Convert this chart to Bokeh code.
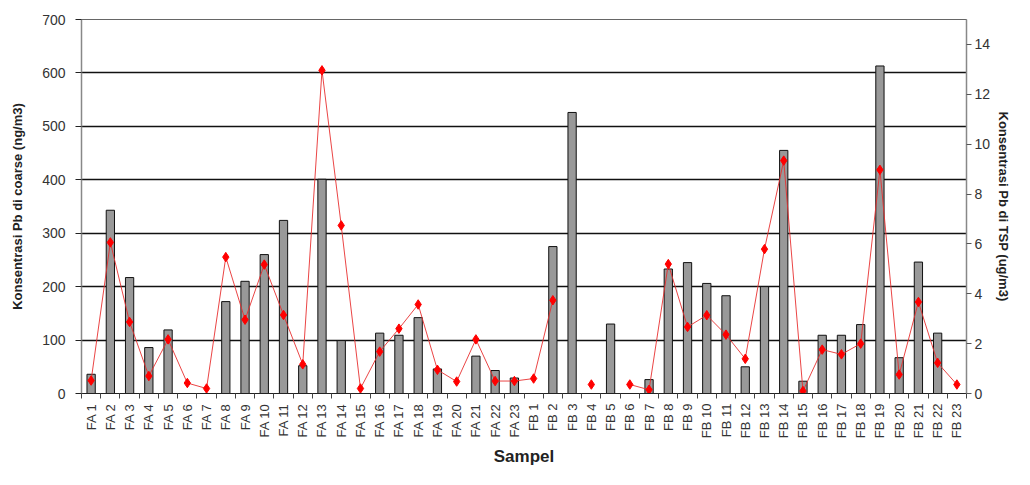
import math
import numpy as np
from bokeh.plotting import figure
from bokeh.models import Range1d, LinearAxis, FixedTicker
from bokeh.embed import file_html
from bokeh.resources import INLINE

nan = float("nan")

categories = [f"FA {i}" for i in range(1, 24)] + [f"FB {i}" for i in range(1, 24)]

# Konsentrasi Pb di coarse (ng/m3) - bars, left axis
coarse = [36, 343, 217, 86, 119, nan, nan, 172, 210, 260, 324, 52, 401, 99, nan,
          113, 109, 142, 46, nan, 70, 43, 29,
          nan, 275, 526, nan, 130, nan, 26, 233, 245, 206, 183, 50, 200, 455, 23,
          109, 109, 129, 613, 67, 246, 113, nan]

# Konsentrasi Pb di TSP (ug/m3) - line, right axis
tsp = [0.52, 6.06, 2.87, 0.70, 2.17, 0.42, 0.20, 5.47, 2.96, 5.17, 3.15, 1.17, 12.96,
       6.74, 0.20, 1.68, 2.60, 3.57, 0.95, 0.48, 2.17, 0.50, 0.50,
       0.60, 3.74, nan, 0.36, nan, 0.36, 0.15, 5.19, 2.67, 3.14, 2.36, 1.39, 5.79, 9.34,
       0.10, 1.76, 1.57, 2.00, 8.97, 0.76, 3.67, 1.23, 0.36]

left_ticks = [0, 100, 200, 300, 400, 500, 600, 700]
right_ticks = [0, 2, 4, 6, 8, 10, 12, 14]

n = len(categories)
xs = np.arange(n) + 0.5

FONT = "Liberation Sans Narrow, Liberation Sans, Arial, sans-serif"
BFONT = "Liberation Sans, Arial, sans-serif"

p = figure(width=1014, height=469, output_backend="svg", toolbar_location=None,
           x_range=Range1d(0, n), y_range=Range1d(0, 700),
           min_border_left=81, min_border_right=40, min_border_top=19, min_border_bottom=72)
p.extra_y_ranges = {"tsp": Range1d(0, 15)}

p.background_fill_color = "white"
p.outline_line_color = "#666666"
p.outline_line_width = 1

# grid
p.xgrid.visible = False
p.ygrid.ticker = FixedTicker(ticks=left_ticks)
p.ygrid.grid_line_color = "#111111"
p.ygrid.grid_line_width = 1.3

# bars
p.vbar(x=xs, top=coarse, bottom=0, width=0.43, fill_color="#999999",
       line_color="#111111", line_width=1)

# line + markers
p.line(x=xs, y=tsp, y_range_name="tsp", line_color="#e83030", line_width=0.9)
p.scatter(x=xs, y=tsp, y_range_name="tsp", marker="diamond", size=9.5,
          fill_color="#ff0000", line_color="#ff0000")

# x axis
xa = p.xaxis[0]
xa.ticker = FixedTicker(ticks=list(xs), minor_ticks=list(np.arange(n + 1)))
xa.major_label_overrides = {float(x): c for x, c in zip(xs, categories)}
xa.major_label_orientation = math.pi / 2
xa.major_tick_line_color = None
xa.minor_tick_out = 5
xa.minor_tick_in = 0
xa.minor_tick_line_color = "#444444"
xa.axis_line_color = "#222222"
xa.axis_line_width = 1.2
xa.major_label_text_font = FONT
xa.major_label_text_font_size = "13px"
xa.major_label_text_color = "#333333"
xa.major_label_standoff = 4
xa.axis_label = "Sampel"
xa.axis_label_text_font = BFONT
xa.axis_label_text_font_style = "bold"
xa.axis_label_text_font_size = "17px"
xa.axis_label_text_color = "#222222"
xa.axis_label_standoff = 6

# left y axis
ya = p.yaxis[0]
ya.ticker = FixedTicker(ticks=left_ticks)
ya.minor_tick_line_color = None
ya.major_tick_out = 6
ya.major_tick_in = 0
ya.major_tick_line_color = "#222222"
ya.axis_line_color = "#888888"
ya.axis_line_width = 1.5
ya.major_label_text_font = FONT
ya.major_label_text_font_size = "14px"
ya.major_label_text_color = "#333333"
ya.major_label_standoff = 10
ya.axis_label = "Konsentrasi Pb di coarse (ng/m3)"
ya.axis_label_text_font = BFONT
ya.axis_label_text_font_style = "bold"
ya.axis_label_text_font_size = "13px"
ya.axis_label_text_color = "#222222"
ya.axis_label_standoff = 14

# right y axis
ra = LinearAxis(y_range_name="tsp", ticker=FixedTicker(ticks=right_ticks))
ra.minor_tick_line_color = None
ra.major_tick_out = 5
ra.major_tick_in = 0
ra.major_tick_line_color = "#555555"
ra.axis_line_color = "#888888"
ra.axis_line_width = 1.5
ra.major_label_text_font = FONT
ra.major_label_text_font_size = "14px"
ra.major_label_text_color = "#333333"
ra.major_label_standoff = 3
ra.axis_label = "Konsentrasi Pb di TSP (ug/m3)"
ra.axis_label_text_font = BFONT
ra.axis_label_text_font_style = "bold"
ra.axis_label_text_font_size = "13px"
ra.axis_label_text_color = "#222222"
ra.axis_label_standoff = 3
p.add_layout(ra, "right")

open("out.html", "w").write(file_html(p, INLINE))
